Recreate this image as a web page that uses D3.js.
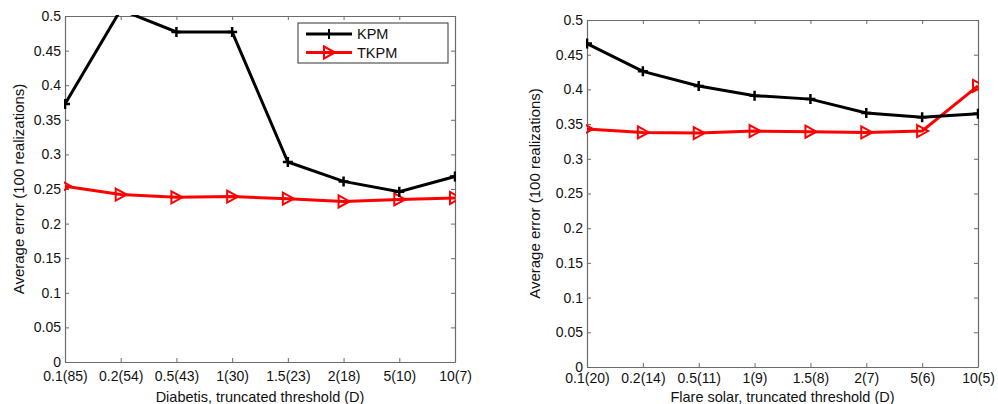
<!DOCTYPE html>
<html>
<head>
<meta charset="utf-8">
<script src="https://cdn.jsdelivr.net/npm/d3@7"></script>
<style>
  body { margin: 0; background: #fff; }
  svg text { font-family: "Liberation Sans", Arial, sans-serif; fill: #111; }
</style>
</head>
<body>
<div id="visual"></div>
<script>
// tick labels along x
const diabetisLabels = ["0.1(85)", "0.2(54)", "0.5(43)", "1(30)", "1.5(23)", "2(18)", "5(10)", "10(7)"];
const flareLabels = ["0.1(20)", "0.2(14)", "0.5(11)", "1(9)", "1.5(8)", "2(7)", "5(6)", "10(5)"];

// series values
const diabetisKPM = [0.373, 0.509, 0.477, 0.477, 0.289, 0.261, 0.246, 0.268];
const diabetisTKPM = [0.254, 0.242, 0.238, 0.239, 0.236, 0.232, 0.235, 0.237];
const flareKPM = [0.466, 0.426, 0.405, 0.391, 0.386, 0.366, 0.360, 0.365];
const flareTKPM = [0.343, 0.338, 0.337, 0.340, 0.339, 0.338, 0.340, 0.405];

const yTicks = [0, 0.05, 0.1, 0.15, 0.2, 0.25, 0.3, 0.35, 0.4, 0.45, 0.5];

const svg = d3.select("#visual")
  .append("svg")
  .attr("width", 998)
  .attr("height", 404);

function drawPanel(opts) {
  const g = svg.append("g");
  const x = d3.scalePoint()
    .domain(opts.labels)
    .range([opts.left, opts.right]);
  const y = d3.scaleLinear()
    .domain([0, 0.5])
    .range([opts.bottom, opts.top]);

  const clipId = "clip" + opts.id;
  svg.append("clipPath").attr("id", clipId)
    .append("rect")
    .attr("x", opts.left - 1).attr("y", opts.top - 1)
    .attr("width", opts.right - opts.left + 2)
    .attr("height", opts.bottom - opts.top + 2);

  // axes (box with inward ticks)
  const axisColor = "#6b6b6b";
  const left = g.append("g")
    .attr("transform", `translate(${opts.left},0)`)
    .call(d3.axisLeft(y).tickValues(yTicks).tickSizeInner(-4).tickSizeOuter(0).tickPadding(4).tickFormat(d3.format("")));
  const rightAx = g.append("g")
    .attr("transform", `translate(${opts.right},0)`)
    .call(d3.axisRight(y).tickValues(yTicks).tickSizeInner(-4).tickSizeOuter(0).tickFormat(""));
  const bottom = g.append("g")
    .attr("transform", `translate(0,${opts.bottom})`)
    .call(d3.axisBottom(x).tickSizeInner(-4).tickSizeOuter(0).tickPadding(opts.xPad));
  const topAx = g.append("g")
    .attr("transform", `translate(0,${opts.top})`)
    .call(d3.axisTop(x).tickSizeInner(-4).tickSizeOuter(0).tickFormat(""));

  [left, rightAx, bottom, topAx].forEach(a => {
    a.selectAll("path").attr("stroke", axisColor).attr("stroke-width", 1.2);
    a.selectAll("line").attr("stroke", axisColor);
    a.selectAll("text").attr("font-size", 14).style("fill", "#111");
  });

  g.append("text")
    .attr("transform", `translate(${opts.left - opts.yLabelOff},${(opts.top + opts.bottom) / 2}) rotate(-90)`)
    .attr("text-anchor", "middle")
    .attr("font-size", 15)
    .text("Average error (100 realizations)");

  g.append("text")
    .attr("x", (opts.left + opts.right) / 2)
    .attr("y", 402)
    .attr("text-anchor", "middle")
    .attr("font-size", 14.5)
    .text(opts.title);

  const line = d3.line()
    .x((d, i) => x(opts.labels[i]))
    .y(d => y(d));

  const plot = g.append("g").attr("clip-path", `url(#${clipId})`);

  // TKPM first so KPM draws on top like the original
  plot.append("path")
    .datum(opts.tkpm)
    .attr("fill", "none")
    .attr("stroke", "#ff0000")
    .attr("stroke-width", 3)
    .attr("d", line);
  plot.selectAll(".tri")
    .data(opts.tkpm)
    .enter().append("path")
    .attr("class", "tri")
    .attr("transform", (d, i) => `translate(${x(opts.labels[i])},${y(d)})`)
    .attr("d", "M-5,-6L6,0L-5,6Z")
    .attr("fill", "none")
    .attr("stroke", "#ff0000")
    .attr("stroke-width", 2);

  plot.append("path")
    .datum(opts.kpm)
    .attr("fill", "none")
    .attr("stroke", "#000")
    .attr("stroke-width", 3)
    .attr("d", line);
  plot.selectAll(".plus")
    .data(opts.kpm)
    .enter().append("path")
    .attr("class", "plus")
    .attr("transform", (d, i) => `translate(${x(opts.labels[i])},${y(d)})`)
    .attr("d", "M-5,0H5M0,-5V5")
    .attr("stroke", "#000")
    .attr("stroke-width", 2.5);

  return { x, y, g };
}

const p1 = drawPanel({
  id: 1, labels: diabetisLabels, kpm: diabetisKPM, tkpm: diabetisTKPM,
  left: 65, right: 455, top: 16, bottom: 362, xPad: 9, yLabelOff: 41,
  title: "Diabetis, truncated threshold (D)"
});

drawPanel({
  id: 2, labels: flareLabels, kpm: flareKPM, tkpm: flareTKPM,
  left: 587, right: 978, top: 20, bottom: 367, xPad: 6, yLabelOff: 47,
  title: "Flare solar, truncated threshold (D)"
});

// legend in the left panel
const legend = p1.g.append("g").attr("transform", "translate(298,23)");
legend.append("rect")
  .attr("width", 150).attr("height", 40)
  .attr("fill", "#fff").attr("stroke", "#333").attr("stroke-width", 1);
const legendItems = [
  { name: "KPM", color: "#000", marker: "M-5,0H5M0,-5V5", fill: "none" },
  { name: "TKPM", color: "#ff0000", marker: "M-5,-6L6,0L-5,6Z", fill: "none" }
];
legendItems.forEach((d, i) => {
  const row = legend.append("g").attr("transform", `translate(0,${11 + i * 18.5})`);
  row.append("line")
    .attr("x1", 8).attr("x2", 54)
    .attr("stroke", d.color).attr("stroke-width", 3);
  row.append("path")
    .attr("transform", "translate(31,0)")
    .attr("d", d.marker)
    .attr("fill", d.fill)
    .attr("stroke", d.color).attr("stroke-width", 2);
  row.append("text")
    .attr("x", 59).attr("y", 5)
    .attr("font-size", 14.5)
    .text(d.name);
});
</script>
</body>
</html>
